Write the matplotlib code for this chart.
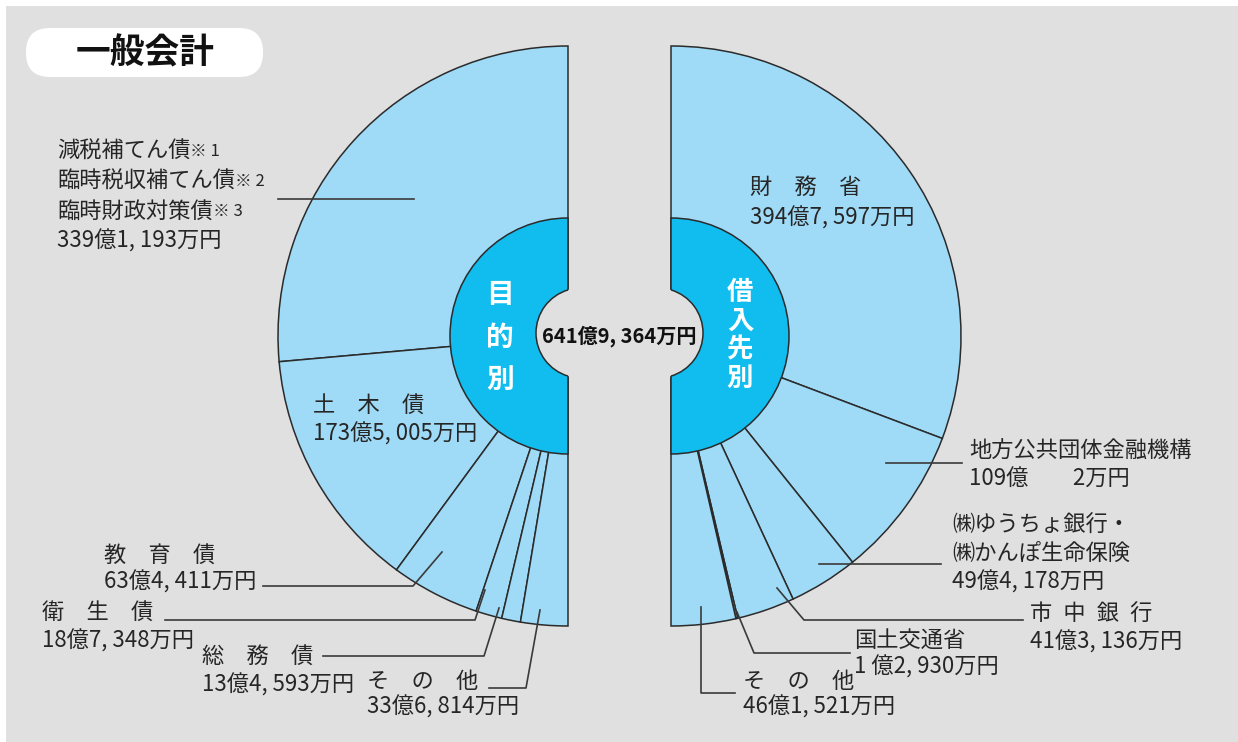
import matplotlib.pyplot as plt
from matplotlib.patches import Rectangle, FancyBboxPatch, Circle, Arc

plt.rcParams['font.family'] = ['Noto Sans CJK JP', 'DejaVu Sans']

# 目的別（億円）: 上から左回り
purpose_names = ['減税補てん債\n臨時税収補てん債\n臨時財政対策債', '土\u3000木\u3000債', '教\u3000育\u3000債',
                 '衛\u3000生\u3000債', '総\u3000務\u3000債', 'そ\u3000の\u3000他']
purpose_notes = ['※ 1', '※ 2', '※ 3']
purpose_values = [339.1193, 173.5005, 63.4411, 18.7348, 13.4593, 33.6814]
purpose_amounts = ['339億1, 193万円', '173億5, 005万円', '63億4, 411万円',
                   '18億7, 348万円', '13億4, 593万円', '33億6, 814万円']

# 借入先別（億円）: 上から右回り
lender_names = ['財\u3000務\u3000省', '地方公共団体金融機構', '㈱ゆうちょ銀行・\n㈱かんぽ生命保険',
                '市\u2002中\u2002銀\u2002行', '国土交通省', 'そ\u3000の\u3000他']
lender_values = [394.7597, 109.0002, 49.4178, 41.3136, 1.2930, 46.1521]
lender_amounts = ['394億7, 597万円', '109億\u3000\u30002万円', '49億4, 178万円',
                  '41億3, 136万円', '1 億2, 930万円', '46億1, 521万円']

total_label = '641億9, 364万円'

BG = '#e0e0e0'
LIGHT = '#9fdaf6'
CYAN = '#10bdee'
EDGE = '#2b2b2b'
TXT = '#262626'
FS = 16

fig = plt.figure(figsize=(12.38, 7.42), dpi=100, facecolor='white')
ax = fig.add_axes([0, 0, 1, 1])
ax.add_patch(Rectangle((6, 6), 1232, 736, facecolor=BG, edgecolor='none', zorder=0))

cy = 336
R = 290
R_IN = 118
left_c = (568, cy)
right_c = (671, cy)
wp = dict(edgecolor=EDGE, linewidth=1.1)

# y軸を反転して使うので、画面上の「上」は270度、回転の向きも逆になる
wl, _ = ax.pie(purpose_values + [sum(purpose_values)], center=left_c, radius=R,
               startangle=270, counterclock=False, colors=[LIGHT] * 7, wedgeprops=wp)
wl[-1].set_visible(False)
wr, _ = ax.pie(lender_values + [sum(lender_values)], center=right_c, radius=R,
               startangle=270, counterclock=True, colors=[LIGHT] * 7, wedgeprops=wp)
wr[-1].set_visible(False)

# 内側の濃い半円
for c, ccw in [(left_c, False), (right_c, True)]:
    w, _ = ax.pie([1, 1], center=c, radius=R_IN, startangle=270, counterclock=ccw,
                  colors=[CYAN, 'none'], wedgeprops=wp)
    w[1].set_visible(False)

# 中央のくり抜き
for cx, t1, t2 in [(581, 106.8, 253.2), (658, -73.2, 73.2)]:
    ax.add_patch(Circle((cx, 333), 45, facecolor=BG, edgecolor='none', zorder=3))
    ax.add_patch(Arc((cx, 333), 90, 90, theta1=t1, theta2=t2, color=EDGE, lw=1.1, zorder=4))

ax.text(619, 336, total_label, ha='center', va='center', fontsize=14.5,
        fontweight='bold', color='#111111', zorder=5)

for i, ch in enumerate('目的別'):
    ax.text(500, 295 + i * 42.5, ch, ha='center', va='center', fontsize=20,
            fontweight='bold', color='white', zorder=5)
for i, ch in enumerate('借入先別'):
    ax.text(740, 293 + i * 28.5, ch, ha='center', va='center', fontsize=19,
            fontweight='bold', color='white', zorder=5)

# タイトル
ax.add_patch(FancyBboxPatch((26, 28), 237, 49, boxstyle='round,pad=0,rounding_size=24',
                            facecolor='white', edgecolor='none', zorder=2))
ax.text(145, 53, '一般会計', ha='center', va='center', fontsize=25,
        fontweight='bold', color='#111111', zorder=5)

# ラベル位置 (x, 1行目のy, 行送り)
left_pos = [(57, 151, 30), (313, 405, 29), (104, 555, 27), (42, 612, 29), (202, 656, 29), (367, 681, 26)]
right_pos = [(750, 187, 31), (969, 451, 28), (952, 525, 28.5), (1030, 614, 28), (854, 640, 27), (743, 681, 26)]

left_leaders = [
    [(414, 199), (278, 199)],
    None,
    [(442, 552), (413, 586), (263, 586)],
    [(485, 590), (475, 620), (165, 620)],
    [(499, 608), (484, 656), (323, 656)],
    [(540, 610), (526, 688), (489, 688)],
]
right_leaders = [
    None,
    [(886, 463), (962, 463)],
    [(819, 564), (941, 564)],
    [(777, 588), (804, 620), (1023, 620)],
    [(737, 612), (754, 653), (850, 653)],
    [(701, 607), (701, 693), (735, 693)],
]


def draw_labels(names, amounts, positions, leaders, notes=None):
    for k, (name, amt, (x, y, dy), ld) in enumerate(zip(names, amounts, positions, leaders)):
        lines = name.split('\n')
        for j, line in enumerate(lines):
            t = ax.text(x, y + j * dy, line, ha='left', va='center', fontsize=FS,
                        color=TXT, zorder=5)
            if notes is not None and k == 0:
                ax.annotate(notes[j], xy=(1, 0.12), xycoords=t, ha='left', va='bottom',
                            fontsize=12, color=TXT, zorder=5)
        ax.text(x, y + len(lines) * dy, amt, ha='left', va='center', fontsize=FS,
                color=TXT, zorder=5)
        if ld is not None:
            xs, ys = zip(*ld)
            ax.plot(xs, ys, color='#3a3a3a', lw=1.2, zorder=4)


draw_labels(purpose_names, purpose_amounts, left_pos, left_leaders, purpose_notes)
draw_labels(lender_names, lender_amounts, right_pos, right_leaders)

ax.set_xlim(0, 1238)
ax.set_ylim(742, 0)
ax.set_aspect('equal')
ax.axis('off')

fig.savefig('out.png', dpi=100, facecolor='white')
